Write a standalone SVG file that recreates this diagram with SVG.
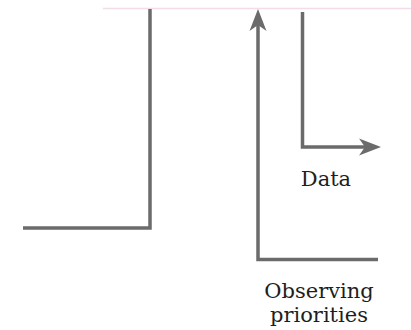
<svg xmlns="http://www.w3.org/2000/svg" width="411" height="330" viewBox="0 0 411 330">
  <style>
    .conn { fill: none; stroke: #6b6b6b; stroke-width: 3.5; stroke-linejoin: miter; stroke-linecap: butt; }
    .lbl { font-family: "DejaVu Serif", "Liberation Serif", serif; font-size: 21px; fill: #1e1e1e; text-anchor: middle; }
  </style>
  <defs>
    <marker id="arrow" markerUnits="userSpaceOnUse" markerWidth="24" markerHeight="20" viewBox="0 -10 24 20" refX="6" refY="0" orient="auto">
      <path d="M22,0 L0,-8.5 L6,0 L0,8.5 Z" fill="#6b6b6b"/>
    </marker>
  </defs>
  <rect width="411" height="330" fill="#ffffff"/>
  <line x1="103" y1="8.5" x2="411" y2="8.5" stroke="#f2dce9" stroke-width="1.5"/>
  <g id="connectors">
    <path class="conn" d="M150,9 V228 H23"/>
    <path class="conn" d="M378,259.5 H258 V25" marker-end="url(#arrow)"/>
    <path class="conn" d="M302.5,12 V147 H365" marker-end="url(#arrow)"/>
  </g>
  <g id="data-label">
    <text class="lbl" x="326" y="186">Data</text>
  </g>
  <g id="observing-priorities-label">
    <text class="lbl" x="319" y="298">Observing</text>
    <text class="lbl" x="319" y="322">priorities</text>
  </g>
</svg>
